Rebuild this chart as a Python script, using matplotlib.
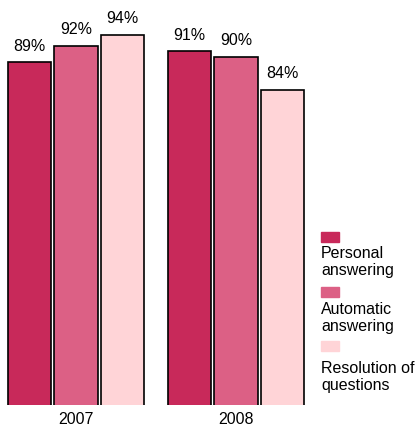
import matplotlib
matplotlib.use("Agg")
import matplotlib.pyplot as plt
from matplotlib.patches import Rectangle
import numpy as np

plt.rcParams["font.family"] = ["Liberation Sans", "DejaVu Sans"]

years = ["2007", "2008"]
series = ["Personal\nanswering", "Automatic\nanswering", "Resolution of\nquestions"]
values = {
    "Personal\nanswering": [89, 91],
    "Automatic\nanswering": [92, 90],
    "Resolution of\nquestions": [94, 84],
}
colors = ["#C8295A", "#DC6085", "#FFD4D7"]

W, H = 419, 426
fig = plt.figure(figsize=(W / 100, H / 100), dpi=100)
ax = fig.add_axes([4 / W, 21 / H, 304 / W, 403 / H])

x = np.arange(len(years))
step, width = 0.29, 0.27
for j, (name, c) in enumerate(zip(series, colors)):
    xs = x + (j - 1) * step
    ax.bar(xs, values[name], width=width, bottom=0, color=c,
           edgecolor="black", linewidth=1.2, zorder=2)
    for xi, v in zip(xs, values[name]):
        ax.text(xi, v + 1.6, f"{v}%", ha="center", va="bottom", fontsize=11.5)

ax.set_xlim(-0.45, 1.45)
ax.set_ylim(26.7, 100)
ax.set_xticks(x)
ax.set_xticklabels(years, fontsize=11.5)
ax.tick_params(axis="x", length=0, pad=5)
ax.set_yticks([])
for s in ax.spines.values():
    s.set_visible(False)
ax.patch.set_alpha(0)

# legend: swatch above each label (last label sits a bit lower)
legend_y = [232, 287, 341]
text_gap = [14, 15, 20]
for y, g, name, c in zip(legend_y, text_gap, series, colors):
    fig.patches.append(Rectangle((321 / W, 1 - (y + 9.5) / H), 18 / W, 9.5 / H,
                                 transform=fig.transFigure, color=c))
    fig.text(321 / W, 1 - (y + g) / H, name, ha="left", va="top",
             fontsize=11.5, linespacing=1.2)

fig.savefig("out.png", dpi=100)
